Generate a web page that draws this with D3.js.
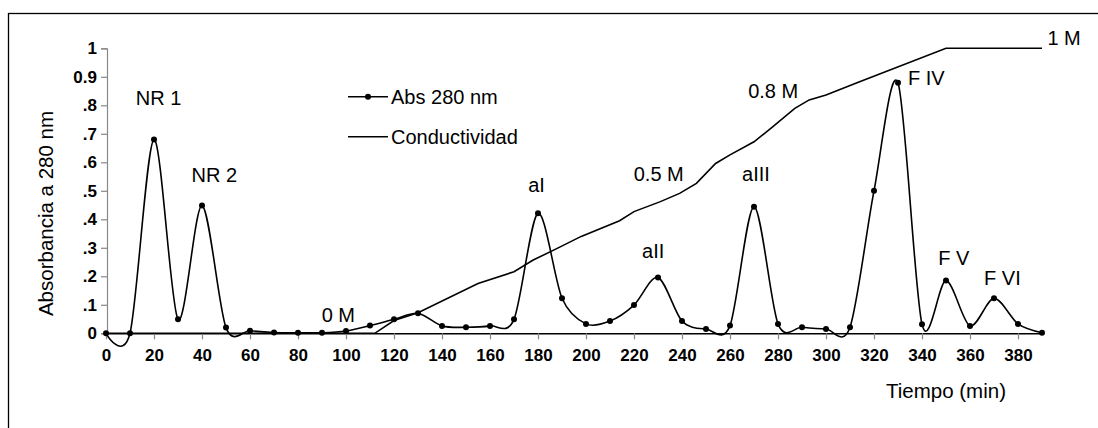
<!DOCTYPE html>
<html>
<head>
<meta charset="utf-8">
<script src="https://cdn.jsdelivr.net/npm/d3@7"></script>
<style>
  html, body { margin: 0; padding: 0; background: #fff; }
  svg { display: block; font-family: "Liberation Sans", Arial, sans-serif; }
</style>
</head>
<body>
<svg id="chart" width="1098" height="428"></svg>
<script>
// ---- data ----
const timeMin = [0,10,20,30,40,50,60,70,80,90,100,110,120,130,140,150,160,170,180,190,
                 200,210,220,230,240,250,260,270,280,290,300,310,320,330,340,350,360,370,380,390];
const abs280 = [0,0,0.68,0.049,0.448,0.02,0.009,0.003,0.002,0.002,0.008,0.027,0.049,0.07,0.026,0.021,0.026,0.049,0.421,0.123,
                0.033,0.043,0.099,0.196,0.043,0.015,0.027,0.444,0.033,0.021,0.015,0.021,0.5,0.879,0.032,0.185,0.026,0.123,0.033,0.002];
const condTime  = [0,112,120,130,155,170,178,188,198,214,220,231,239,246,254,260,270,277,287,293,300,314,350,390];
const condValue = [0,0,0.045,0.072,0.175,0.216,0.257,0.298,0.34,0.395,0.427,0.462,0.491,0.526,0.596,0.626,0.672,0.719,0.789,0.819,0.836,0.883,1.0,1.0];
const xTicks = [0,20,40,60,80,100,120,140,160,180,200,220,240,260,280,300,320,340,360,380];
const yTicks = [0,0.1,0.2,0.3,0.4,0.5,0.6,0.7,0.8,0.9,1];
const yTickLabels = ["0",".1",".2",".3",".4",".5",".6",".7",".8","0.9","1"];
const annText = ["NR 1","NR 2","0 M","aI","aII","0.5 M","aIII","0.8 M","F IV","F V","F VI","1 M"];
const annTime = [21.9,45.1,96.8,179.4,228,230.3,270.8,278,341.8,353.3,373.5,399.2];
const annLevel = [0.80,0.532,0.041,0.495,0.263,0.535,0.535,0.825,0.871,0.24,0.17,1.012];
const legendLabels = ["Abs 280 nm","Conductividad"];
const xTitle = "Tiempo (min)";
const yTitle = "Absorbancia a 280 nm";

// ---- drawing ----
const svg = d3.select("#chart");
const x = d3.scaleLinear().domain([0,390]).range([106,1042]);
const y = d3.scaleLinear().domain([0,1]).range([333.3,48.3]);

// frame
svg.append("rect").attr("x",8.5).attr("y",13.5).attr("width",1200).attr("height",600)
  .attr("fill","none").attr("stroke","#000").attr("stroke-width",1.3);

// y axis
const yAxis = d3.axisLeft(y).tickValues(yTicks).tickSize(6).tickPadding(4)
  .tickFormat((d,i)=>yTickLabels[i]);
const gy = svg.append("g").attr("transform","translate(107,0)").call(yAxis);
gy.select(".domain").attr("stroke","#888").attr("stroke-width",1.2);
gy.selectAll(".tick line").attr("stroke","#888").attr("stroke-width",1.2);
gy.selectAll(".tick text").attr("font-size",17).attr("font-weight","bold")
  .attr("font-family","Liberation Sans, Arial, sans-serif").attr("fill","#000");

// x axis
const xAxis = d3.axisBottom(x).tickValues(xTicks).tickSize(6).tickPadding(10).tickSizeOuter(0);
const gx = svg.append("g").attr("transform","translate(0,333.3)").call(xAxis);
gx.select(".domain").attr("stroke","#000").attr("stroke-width",1.5);
gx.selectAll(".tick line").attr("stroke","#888").attr("stroke-width",1.2);
gx.selectAll(".tick text").attr("font-size",17).attr("font-weight","bold")
  .attr("font-family","Liberation Sans, Arial, sans-serif").attr("fill","#000");

// conductivity line
const condData = condTime.map((t,i)=>[t,condValue[i]]);
svg.append("path").datum(condData)
  .attr("fill","none").attr("stroke","#000").attr("stroke-width",1.6)
  .attr("d", d3.line().x(d=>x(d[0])).y(d=>y(d[1])));

// absorbance smooth line
const absData = timeMin.map((t,i)=>[t,abs280[i]]);
svg.append("path").datum(absData)
  .attr("fill","none").attr("stroke","#000").attr("stroke-width",1.6)
  .attr("d", d3.line().x(d=>x(d[0])).y(d=>y(d[1])).curve(d3.curveCardinal.tension(0.1)));
svg.append("g").selectAll("circle").data(absData).join("circle")
  .attr("cx",d=>x(d[0])).attr("cy",d=>y(d[1])).attr("r",3).attr("fill","#000");

// annotations
svg.append("g").selectAll("text").data(annText).join("text")
  .attr("x",(d,i)=>x(annTime[i])).attr("y",(d,i)=>y(annLevel[i]))
  .attr("text-anchor","middle").attr("font-size",20).attr("fill","#000")
  .text(d=>d);

// legend
const lg = svg.append("g");
lg.append("line").attr("x1",348).attr("x2",388).attr("y1",96.7).attr("y2",96.7)
  .attr("stroke","#000").attr("stroke-width",1.6);
lg.append("circle").attr("cx",368).attr("cy",96.7).attr("r",3).attr("fill","#000");
lg.append("text").attr("x",391).attr("y",103.5).attr("font-size",20).text(legendLabels[0]);
lg.append("line").attr("x1",348).attr("x2",388).attr("y1",136.7).attr("y2",136.7)
  .attr("stroke","#000").attr("stroke-width",1.6);
lg.append("text").attr("x",391).attr("y",143.5).attr("font-size",20).text(legendLabels[1]);

// axis titles
svg.append("text").attr("x",946).attr("y",398).attr("text-anchor","middle")
  .attr("font-size",20.5).text(xTitle);
svg.append("text").attr("transform","translate(53,213.5) rotate(-90)")
  .attr("text-anchor","middle").attr("font-size",20.5).text(yTitle);
</script>
</body>
</html>
